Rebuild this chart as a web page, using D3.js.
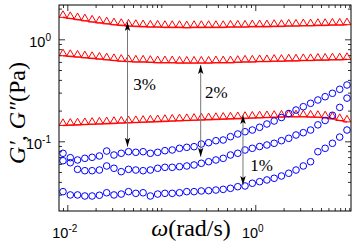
<!DOCTYPE html>
<html>
<head>
<meta charset="utf-8">
<script src="https://cdn.jsdelivr.net/npm/d3@7"></script>
<style>
  body { margin: 0; background: #fff; }
  svg { display: block; }
  .axis path { display: none; }
  .axis line { stroke: #000; stroke-width: 0.8; }
  .axis text { font-family: "Liberation Sans", Arial, sans-serif; font-size: 14.5px; fill: #000; }
  .serif { font-family: "Liberation Serif", "Times New Roman", serif; fill: #000; }
</style>
</head>
<body>
<svg width="357" height="247"></svg>
<script>
// frequency grid (rad/s)
const omega = [0.00900, 0.01076, 0.01285, 0.01537, 0.01837, 0.02196, 0.02624, 0.03136, 0.03750, 0.04481,
  0.05357, 0.06403, 0.07652, 0.09147, 0.1093, 0.1307, 0.1562, 0.1867, 0.2232, 0.2667,
  0.3188, 0.3811, 0.4555, 0.5445, 0.6508, 0.7779, 0.9299, 1.112, 1.329, 1.588,
  1.898, 2.269, 2.712, 3.242, 3.875, 4.632, 5.536, 6.617, 7.909, 9.453];

// storage modulus G' (Pa) for 3%, 2%, 1% strain
const gPrime3 = [1.64, 1.60, 1.56, 1.52, 1.48, 1.45, 1.42, 1.39, 1.37, 1.35,
  1.34, 1.33, 1.32, 1.32, 1.31, 1.31, 1.31, 1.30, 1.31, 1.31,
  1.31, 1.31, 1.31, 1.32, 1.32, 1.32, 1.33, 1.33, 1.33, 1.34,
  1.34, 1.35, 1.35, 1.36, 1.36, 1.37, 1.37, 1.38, 1.38, 1.39];
const gPrime2 = [0.69, 0.68, 0.67, 0.66, 0.65, 0.64, 0.63, 0.62, 0.61, 0.605,
  0.60, 0.60, 0.595, 0.59, 0.59, 0.59, 0.585, 0.585, 0.585, 0.585,
  0.585, 0.59, 0.59, 0.59, 0.595, 0.60, 0.60, 0.605, 0.605, 0.61,
  0.61, 0.615, 0.615, 0.62, 0.62, 0.625, 0.625, 0.63, 0.63, 0.635];
const gPrime1 = [0.143, 0.144, 0.145, 0.146, 0.147, 0.148, 0.149, 0.150, 0.151, 0.152,
  0.153, 0.154, 0.155, 0.156, 0.157, 0.158, 0.159, 0.160, 0.161, 0.162,
  0.163, 0.164, 0.165, 0.166, 0.167, 0.168, 0.169, 0.170, 0.171, 0.172,
  0.173, 0.174, 0.174, 0.174, 0.173, 0.172, 0.170, 0.166, 0.160, 0.155];

// loss modulus G'' (Pa)
const gDouble3 = [0.0763, 0.0691, 0.0656, 0.0681, 0.0697, 0.0718, 0.0803, 0.0734, 0.0763, 0.0791,
  0.0780, 0.0791, 0.0763, 0.0780, 0.0809, 0.0822, 0.0854, 0.0873, 0.0886, 0.0941,
  0.0969, 0.1014, 0.1030, 0.1110, 0.1179, 0.1242, 0.1290, 0.1372, 0.1478, 0.1581,
  0.1711, 0.1873, 0.2026, 0.2184, 0.2358, 0.2541, 0.2737, 0.2955, 0.3235, 0.3565];
const gDouble2 = [0.0645, 0.0617, 0.0531, 0.0515, 0.0515, 0.0523, 0.0573, 0.0544, 0.0504, 0.0531,
  0.0523, 0.0515, 0.0523, 0.0544, 0.0556, 0.0556, 0.0564, 0.0573, 0.0586, 0.0609,
  0.0631, 0.0656, 0.0681, 0.0734, 0.0763, 0.0822, 0.0854, 0.0889, 0.0920, 0.0956,
  0.1014, 0.1070, 0.1153, 0.1215, 0.1290, 0.145, 0.160, 0.180, 0.215, 0.265];
const gDouble1 = [0.0321, 0.0298, 0.0298, 0.0291, 0.0291, 0.0296, 0.0313, 0.0298, 0.0304, 0.0321,
  0.0309, 0.0313, 0.0291, 0.0304, 0.0309, 0.0309, 0.0313, 0.0321, 0.0321, 0.0326,
  0.0328, 0.0333, 0.0338, 0.0346, 0.0359, 0.0365, 0.0388, 0.0402, 0.0418, 0.0434,
  0.0457, 0.0486, 0.0523, 0.0573, 0.0631, 0.0791, 0.0854, 0.0956, 0.110, 0.129];

// ticks
const xMajorTicks = [0.01, 1];
const xMajorExp = ["-2", "0"];
const xMinorTicks = [0.009, 0.02, 0.03, 0.04, 0.05, 0.06, 0.07, 0.08, 0.09, 0.1,
  0.2, 0.3, 0.4, 0.5, 0.6, 0.7, 0.8, 0.9, 2, 3, 4, 5, 6, 7, 8, 9, 10];
const yMajorTicks = [0.1, 1];
const yMajorExp = ["-1", "0"];
const yMinorTicks = [0.03, 0.04, 0.05, 0.06, 0.07, 0.08, 0.09,
  0.2, 0.3, 0.4, 0.5, 0.6, 0.7, 0.8, 0.9, 2];

// strain annotations
const strainLabels = ["3%", "2%", "1%"];
const arrowOmega = [0.0437, 0.2625, 0.740];
const arrowTop = [1.48, 0.560, 0.181];
const arrowBottom = [0.0886, 0.0706, 0.0373];
const labelOmega = [0.0504, 0.2917, 0.885];
const labelG = [0.315, 0.2658, 0.0506];

const W = 357, H = 247;
const m = { l: 59, r: 6, t: 5, b: 36 };
const iw = W - m.l - m.r, ih = H - m.t - m.b;

const svg = d3.select("svg");
const x = d3.scaleLog().domain([0.00816, 10.43]).range([0, iw]);
const y = d3.scaleLog().domain([0.02074, 2.169]).range([ih, 0]);

const g = svg.append("g").attr("transform", `translate(${m.l},${m.t})`);

svg.append("defs").append("clipPath").attr("id", "clip")
  .append("rect").attr("width", iw).attr("height", ih);

// axes, ticks pointing inward on all four sides
function axisPair(make, ticks, size) {
  return make.tickValues(ticks).tickSizeInner(-size).tickSizeOuter(0).tickFormat("");
}
const axes = [
  [d3.axisBottom, x, `translate(0,${ih})`],
  [d3.axisTop, x, "translate(0,0)"],
  [d3.axisLeft, y, "translate(0,0)"],
  [d3.axisRight, y, `translate(${iw},0)`]
];
axes.forEach(([fn, sc, tr]) => {
  const isX = sc === x;
  g.append("g").attr("class", "axis").attr("transform", tr)
    .call(axisPair(fn(sc), isX ? xMinorTicks : yMinorTicks, 3));
  g.append("g").attr("class", "axis").attr("transform", tr)
    .call(axisPair(fn(sc), isX ? xMajorTicks : yMajorTicks, 6));
});

// tick labels as 10^n
const xLab = g.append("g").attr("class", "axis").attr("transform", `translate(0,${ih})`)
  .call(d3.axisBottom(x).tickValues(xMajorTicks).tickSize(0).tickPadding(27).tickFormat(""));
xLab.selectAll(".tick text").each(function (d, i) {
  const t = d3.select(this).attr("dy", null).attr("dx", -3).attr("text-anchor", "middle");
  t.append("tspan").text("10");
  t.append("tspan").attr("dy", -6.5).attr("font-size", 10).text(xMajorExp[i]);
});
const yLab = g.append("g").attr("class", "axis")
  .call(d3.axisLeft(y).tickValues(yMajorTicks).tickSize(0).tickPadding(8).tickFormat(""));
yLab.selectAll(".tick text").each(function (d, i) {
  const t = d3.select(this).attr("dy", 7.5).attr("text-anchor", "end");
  t.append("tspan").text("10");
  t.append("tspan").attr("dy", -6.5).attr("font-size", 10).text(yMajorExp[i]);
});

// data
const plot = g.append("g").attr("clip-path", "url(#clip)");
const line = d3.line().x(d => x(d[0])).y(d => y(d[1]));

[gPrime3, gPrime2, gPrime1].forEach(vals => {
  const pts = omega.map((w, i) => [w, vals[i]]);
  plot.append("path").datum(pts).attr("d", line)
    .attr("fill", "none").attr("stroke", "#ff2020").attr("stroke-width", 1.6).attr("opacity", 0.8);
  plot.selectAll(null).data(pts).join("path")
    .attr("transform", d => `translate(${x(d[0])},${y(d[1])})`)
    .attr("d", "M-3.8,0L0,-6.6L3.8,0Z")
    .attr("fill", "none").attr("stroke", "#ff0000").attr("stroke-width", 1);
});

[gDouble3, gDouble2, gDouble1].forEach(vals => {
  plot.selectAll(null).data(omega.map((w, i) => [w, vals[i]])).join("circle")
    .attr("cx", d => x(d[0])).attr("cy", d => y(d[1])).attr("r", 3.3)
    .attr("fill", "none").attr("stroke", "#0000ff").attr("stroke-width", 1);
});

// arrows
svg.select("defs").append("marker").attr("id", "head")
  .attr("viewBox", "0 -3 9 6").attr("refX", 9).attr("refY", 0)
  .attr("markerWidth", 9).attr("markerHeight", 6).attr("markerUnits", "userSpaceOnUse")
  .attr("orient", "auto-start-reverse")
  .append("path").attr("d", "M0,-2.7L9,0L0,2.7L2,0Z").attr("fill", "#000");

strainLabels.forEach((s, i) => {
  g.append("line")
    .attr("x1", x(arrowOmega[i])).attr("x2", x(arrowOmega[i]))
    .attr("y1", y(arrowTop[i])).attr("y2", y(arrowBottom[i]))
    .attr("stroke", "#777").attr("stroke-width", 1)
    .attr("marker-start", "url(#head)").attr("marker-end", "url(#head)");
  g.append("text").attr("class", "serif")
    .attr("x", x(labelOmega[i])).attr("y", y(labelG[i]))
    .attr("font-size", 17).text(s);
});

// frame
g.append("rect").attr("width", iw).attr("height", ih)
  .attr("fill", "none").attr("stroke", "#000").attr("stroke-width", 1);

// axis titles
const xt = svg.append("text").attr("class", "serif")
  .attr("x", 191).attr("y", 236).attr("text-anchor", "middle").attr("font-size", 24);
xt.append("tspan").attr("font-style", "italic").text("ω");
xt.append("tspan").text("(rad/s)");

const yt = svg.append("text").attr("class", "serif")
  .attr("transform", `translate(25,${m.t + ih / 2 + 5}) rotate(-90)`)
  .attr("text-anchor", "middle").attr("font-size", 24);
yt.append("tspan").attr("font-style", "italic").text("G′, G″");
yt.append("tspan").text("(Pa)");
</script>
</body>
</html>
